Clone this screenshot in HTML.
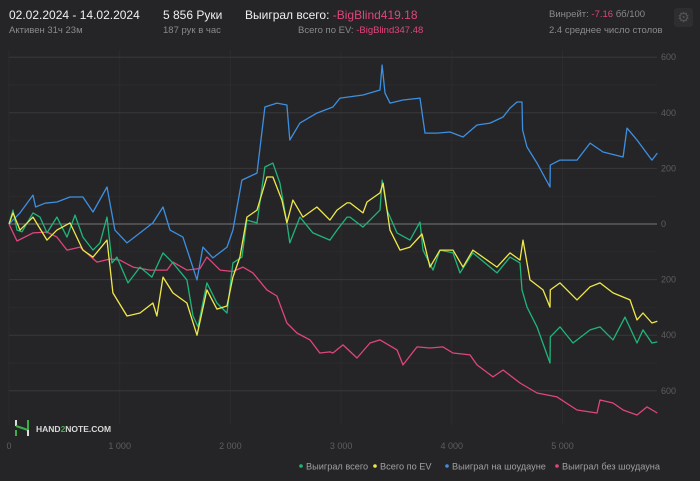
<!DOCTYPE html>
<html><head><meta charset="utf-8">
<style>
body{margin:0;background:#252527;width:700px;height:481px;overflow:hidden;font-family:"Liberation Sans","DejaVu Sans",sans-serif;}
.t{position:absolute;white-space:nowrap;}
.big{font-size:12px;color:#f0f0f0;top:8px;}
.small{font-size:9.5px;color:#8a8a8a;top:25px;}
.pink{color:#e0457b;}
</style></head><body>
<div class="t big" style="left:9px">02.02.2024 - 14.02.2024</div>
<div class="t small" style="left:9px">Активен 31ч 23м</div>
<div class="t big" style="left:163px">5 856 Руки</div>
<div class="t small" style="left:163px">187 рук в час</div>
<div class="t big" style="left:245px">Выиграл всего: <span class="pink">-BigBlind419.18</span></div>
<div class="t small" style="left:298px">Всего по EV: <span class="pink">-BigBlind347.48</span></div>
<div class="t small" style="left:549px;top:9px">Винрейт: <span class="pink">-7.16</span> бб/100</div>
<div class="t small" style="left:549px">2.4 среднее число столов</div>
<div class="t" style="left:674px;top:8px;width:19px;height:19px;border-radius:3px;background:#2e2e31;color:#555;font-size:14px;text-align:center;line-height:19px">⚙</div>
<svg id="chart" width="700" height="481" style="position:absolute;left:0;top:0"></svg>
<script>
const xTicks=[0,1000,2000,3000,4000,5000];
const xTickLabels=["0","1 000","2 000","3 000","4 000","5 000"];
const yTicks=[600,400,200,0,-200,-400,-600];
const yTickLabels=["600","400","200","0","200","400","600"];
const seriesNames=["Выиграл всего","Всего по EV","Выиграл на шоудауне","Выиграл без шоудауна"];
const seriesColors=["#1fb57a","#f0e84a","#3d8fe0","#e0457b"];
const greenX=[0,36,72,117,217,280,343,433,524,596,668,759,822,885,930,975,1075,1183,1291,1391,1481,1607,1662,1707,1788,1878,1969,2023,2104,2149,2240,2312,2384,2447,2510,2537,2628,2745,2899,2963,3053,3080,3198,3351,3370,3415,3505,3622,3713,3740,3830,3893,4011,4074,4191,4408,4526,4616,4634,4679,4770,4887,4890,4977,5095,5249,5339,5456,5565,5673,5727,5808,5856];
const greenY=[0,50,-22,-28,40,25,-32,25,-47,32,-47,-94,-68,25,-140,-119,-212,-155,-191,-104,-140,-201,-331,-370,-212,-284,-320,-140,-119,14,4,205,219,147,4,-68,25,-32,-58,-22,25,25,-11,50,158,50,-32,-58,7,-94,-166,-94,-104,-176,-104,-176,-119,-140,-237,-299,-370,-500,-406,-370,-428,-381,-370,-417,-335,-428,-381,-428,-424];
const yellowX=[0,36,99,217,343,433,551,668,759,885,939,1066,1183,1300,1336,1391,1481,1607,1698,1788,1878,1969,2023,2086,2149,2240,2330,2384,2465,2510,2565,2655,2781,2899,2963,3053,3080,3198,3234,3351,3379,3442,3532,3622,3731,3803,3893,4011,4101,4191,4408,4526,4616,4643,4706,4824,4887,4890,4977,5131,5249,5339,5456,5610,5673,5727,5808,5856];
const yellowY=[0,40,-22,25,-58,-22,4,-94,-119,-58,-248,-331,-320,-284,-331,-191,-248,-284,-400,-237,-306,-295,-191,-119,25,50,169,169,86,4,86,25,61,14,50,76,76,40,79,112,147,-22,-94,-83,-36,-155,-94,-94,-155,-94,-155,-104,-130,-58,-201,-237,-299,-237,-212,-273,-226,-212,-248,-273,-345,-320,-356,-350];
const blueX=[0,99,217,240,325,433,551,668,759,885,957,1066,1183,1300,1391,1454,1571,1698,1752,1842,1969,2023,2104,2240,2312,2420,2510,2537,2628,2781,2926,2990,3198,3351,3370,3397,3442,3559,3713,3758,3866,3984,4101,4228,4345,4463,4526,4589,4634,4640,4679,4770,4887,4890,4977,5131,5249,5366,5547,5583,5673,5727,5808,5856];
const blueY=[0,40,104,61,75,79,97,97,43,133,-22,-68,-32,4,61,-22,-47,-201,-83,-122,-83,-22,158,183,421,435,428,302,363,399,421,453,464,482,572,471,435,446,453,327,327,331,313,356,363,385,417,439,439,338,277,219,133,212,230,230,291,259,241,345,302,273,230,255];
const pinkX=[0,72,217,343,433,524,641,795,912,1002,1120,1274,1427,1481,1607,1725,1788,1906,2023,2113,2203,2330,2420,2510,2601,2719,2808,2899,2926,3017,3144,3261,3351,3505,3559,3686,3803,3920,4011,4164,4228,4372,4463,4616,4770,4950,5131,5312,5339,5456,5547,5673,5763,5856];
const pinkY=[0,-61,-32,-29,-47,-94,-83,-137,-126,-130,-155,-166,-166,-137,-166,-160,-119,-166,-171,-155,-176,-237,-259,-356,-392,-417,-464,-460,-464,-435,-482,-428,-417,-453,-507,-442,-446,-442,-464,-471,-507,-550,-525,-572,-608,-622,-669,-680,-633,-644,-669,-687,-658,-680];

const NS="http://www.w3.org/2000/svg";
const svg=document.getElementById('chart');
const X0=9,XK=0.1107,Y0=224,YK=0.278;
function sx(v){return X0+v*XK;}
function sy(v){return Y0-v*YK;}
function mk(tag,attrs){const e=document.createElementNS(NS,tag);for(const k in attrs)e.setAttribute(k,attrs[k]);svg.appendChild(e);return e;}
[500,300,100,-100,-300,-500].forEach(v=>{
  const l=mk('line',{x1:9,x2:657,y1:sy(v),y2:sy(v),stroke:'#2b2b2e','stroke-width':1});
  
  
});
xTicks.forEach((v,i)=>{
  const l=mk('line',{x1:sx(v),x2:sx(v),y1:50,y2:425,stroke:'#2c2c2f','stroke-width':1});
  
  
  const t=mk('text',{x:sx(v),y:449,fill:'#5e5e62','font-size':9,'text-anchor':'middle'});
  t.textContent=xTickLabels[i];
  
  
});
yTicks.forEach((v,i)=>{
  const l=mk('line',{x1:9,x2:657,y1:sy(v),y2:sy(v),stroke:v===0?'#77777a':'#38383c','stroke-width':1});
  
  
  const t=mk('text',{x:661,y:sy(v)+3,fill:'#5e5e62','font-size':9});
  t.textContent=yTickLabels[i];
  
  
});
const data=[[greenX,greenY],[yellowX,yellowY],[blueX,blueY],[pinkX,pinkY]];
const order=[3,2,0,1];
const names=['line-won-total','line-ev','line-showdown','line-non-showdown'];
order.forEach(i=>{
  const [xs,ys]=data[i];
  let d='';
  xs.forEach((x,j)=>{d+=(j?'L':'M')+sx(x).toFixed(1)+' '+sy(ys[j]).toFixed(1);});
  const p=mk('path',{d:d,fill:'none',stroke:seriesColors[i],'stroke-width':1.3,'stroke-linejoin':'round'});
  
  
});
const lx=[301,375,447,557];
seriesNames.forEach((n,i)=>{
  const c=mk('circle',{cx:lx[i],cy:466,r:1.8,fill:seriesColors[i]});
  
  
  const t=mk('text',{x:lx[i]+5,y:469.5,fill:'#a0a0a4','font-size':9.2});
  t.textContent=n;
  
  
});
const g=mk('g',{});


[['M16 420 V426','#ddd'],['M16 426 L28 430','#3cae4a'],['M16 430 V436','#3cae4a'],['M28 420 V430','#3cae4a'],['M28 430 V436','#ddd']].forEach(a=>{
  const p=document.createElementNS(NS,'path');p.setAttribute('d',a[0]);p.setAttribute('stroke',a[1]);p.setAttribute('stroke-width',2);p.setAttribute('fill','none');g.appendChild(p);
});
const lt=document.createElementNS(NS,'text');
lt.setAttribute('x',36);lt.setAttribute('y',432);lt.setAttribute('fill','#d8d8d8');lt.setAttribute('font-size',8.5);lt.setAttribute('font-weight','bold');
lt.innerHTML='HAND<tspan fill="#3cae4a">2</tspan>NOTE.COM';
g.appendChild(lt);
</script>
</body></html>
